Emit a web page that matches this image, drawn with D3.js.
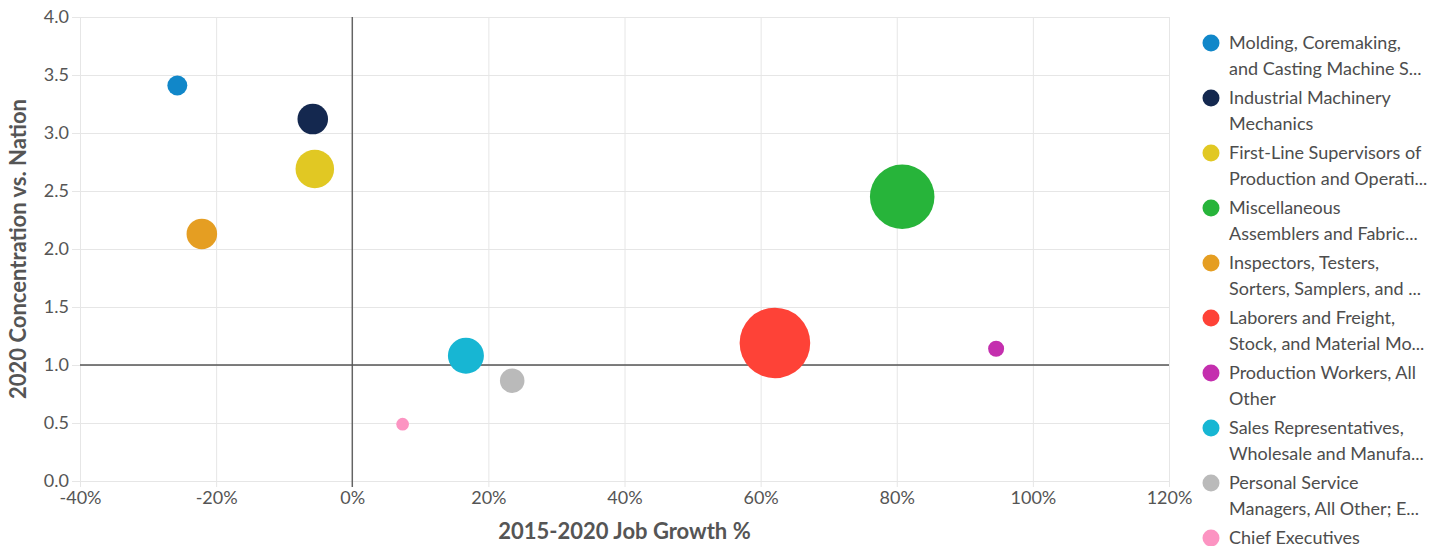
<!DOCTYPE html>
<html>
<head>
<meta charset="utf-8">
<script src="https://cdn.jsdelivr.net/npm/d3@7"></script>
<style>
  body { margin: 0; background: #fff; font-family: Lato, "Open Sans", sans-serif; }
  .grid line { stroke: #e6e6e6; stroke-width: 1; }
  .tick text { fill: #555; font-size: 18px; font-family: Lato, sans-serif; }
  .axis-title { fill: #555; font-size: 22px; font-weight: bold; font-family: Lato, sans-serif; }
  .legend text { fill: #4d4d4d; font-size: 18px; font-family: Lato, sans-serif; }
</style>
</head>
<body>
<div id="chart"></div>
<script>
const names = [
  ["Molding, Coremaking,", "and Casting Machine S..."],
  ["Industrial Machinery", "Mechanics"],
  ["First-Line Supervisors of", "Production and Operati..."],
  ["Miscellaneous", "Assemblers and Fabric..."],
  ["Inspectors, Testers,", "Sorters, Samplers, and ..."],
  ["Laborers and Freight,", "Stock, and Material Mo..."],
  ["Production Workers, All", "Other"],
  ["Sales Representatives,", "Wholesale and Manufa..."],
  ["Personal Service", "Managers, All Other; E..."],
  ["Chief Executives"]
];
const jobGrowth = [-25.7, -5.8, -5.5, 80.8, -22.1, 62.1, 94.6, 16.7, 23.5, 7.4];
const concentration = [3.41, 3.12, 2.69, 2.45, 2.13, 1.19, 1.14, 1.08, 0.865, 0.49];
const jobs = [100, 234, 373, 1045, 234, 1250, 64, 325, 151, 40];
const colors = ["#1187c9", "#14284f", "#e1c823", "#27b43a", "#e59e22",
                "#fe4237", "#c42fae", "#17b6d3", "#bababa", "#fc94c2"];
const xTicks = [-40, -20, 0, 20, 40, 60, 80, 100, 120];
const yTicks = [0, 0.5, 1, 1.5, 2, 2.5, 3, 3.5, 4];

const margin = { top: 17, right: 278, bottom: 65, left: 80 };
const fullWidth = 1447;
const fullHeight = 546;
const width = fullWidth - margin.left - margin.right;
const height = fullHeight - margin.top - margin.bottom;

const svg = d3.select("#chart").append("svg")
  .attr("width", fullWidth)
  .attr("height", fullHeight);
const g = svg.append("g")
  .attr("transform", `translate(${margin.left}, ${margin.top})`);

const x = d3.scaleLinear().domain([-40, 120]).range([0, width]);
const y = d3.scaleLinear().domain([0, 4]).range([height, 0]);
const r = d3.scaleSqrt().domain([0, d3.max(jobs)]).range([0, 35.3]);

// grid + axes
g.append("g").attr("class", "grid")
  .attr("transform", `translate(0, ${height})`)
  .call(d3.axisBottom(x).tickValues(xTicks).tickSize(height + 6).tickSizeOuter(0)
    .tickFormat(d => d + "%"))
  .call(s => s.select(".domain").remove())
  .call(s => s.selectAll(".tick line").attr("y1", 6).attr("y2", -height))
  .call(s => s.selectAll(".tick text").attr("dy", "0.75em").attr("y", 9));

g.append("g").attr("class", "grid")
  .call(d3.axisLeft(y).tickValues(yTicks).tickSize(8).tickFormat(d3.format(".1f")).tickPadding(3))
  .call(s => s.select(".domain").remove())
  .call(s => s.selectAll(".tick line").attr("x1", -8).attr("x2", width));

// reference lines at 0% and 1.0
g.append("line")
  .attr("x1", x(0)).attr("x2", x(0))
  .attr("y1", 0).attr("y2", height + 6)
  .attr("stroke", "#555").attr("stroke-width", 1.3);
g.append("line")
  .attr("x1", 0).attr("x2", width)
  .attr("y1", y(1)).attr("y2", y(1))
  .attr("stroke", "#555").attr("stroke-width", 1.3);

// bubbles
const data = names.map((n, i) => ({
  name: n, x: jobGrowth[i], y: concentration[i], size: jobs[i], color: colors[i]
}));
g.append("g").selectAll("circle")
  .data(data.slice().sort((a, b) => b.size - a.size))
  .enter().append("circle")
  .attr("cx", d => x(d.x))
  .attr("cy", d => y(d.y))
  .attr("r", d => r(d.size))
  .attr("fill", d => d.color);

// axis titles
svg.append("text").attr("class", "axis-title")
  .attr("x", margin.left + width / 2).attr("y", 539)
  .attr("text-anchor", "middle")
  .text("2015-2020 Job Growth %");
svg.append("text").attr("class", "axis-title")
  .attr("transform", `translate(26, ${margin.top + height / 2}) rotate(-90)`)
  .attr("text-anchor", "middle")
  .text("2020 Concentration vs. Nation");

// legend
const legend = svg.append("g").attr("class", "legend")
  .attr("transform", "translate(1211, 43)");
const item = legend.selectAll("g").data(data).enter().append("g")
  .attr("transform", (d, i) => `translate(0, ${i * 55})`);
item.append("circle").attr("r", 8.5).attr("fill", d => d.color);
item.append("text")
  .attr("x", 18).attr("y", 6)
  .selectAll("tspan").data(d => d.name).enter().append("tspan")
  .attr("x", 18).attr("dy", (d, i) => i === 0 ? 0 : 26)
  .text(d => d);
</script>
</body>
</html>
